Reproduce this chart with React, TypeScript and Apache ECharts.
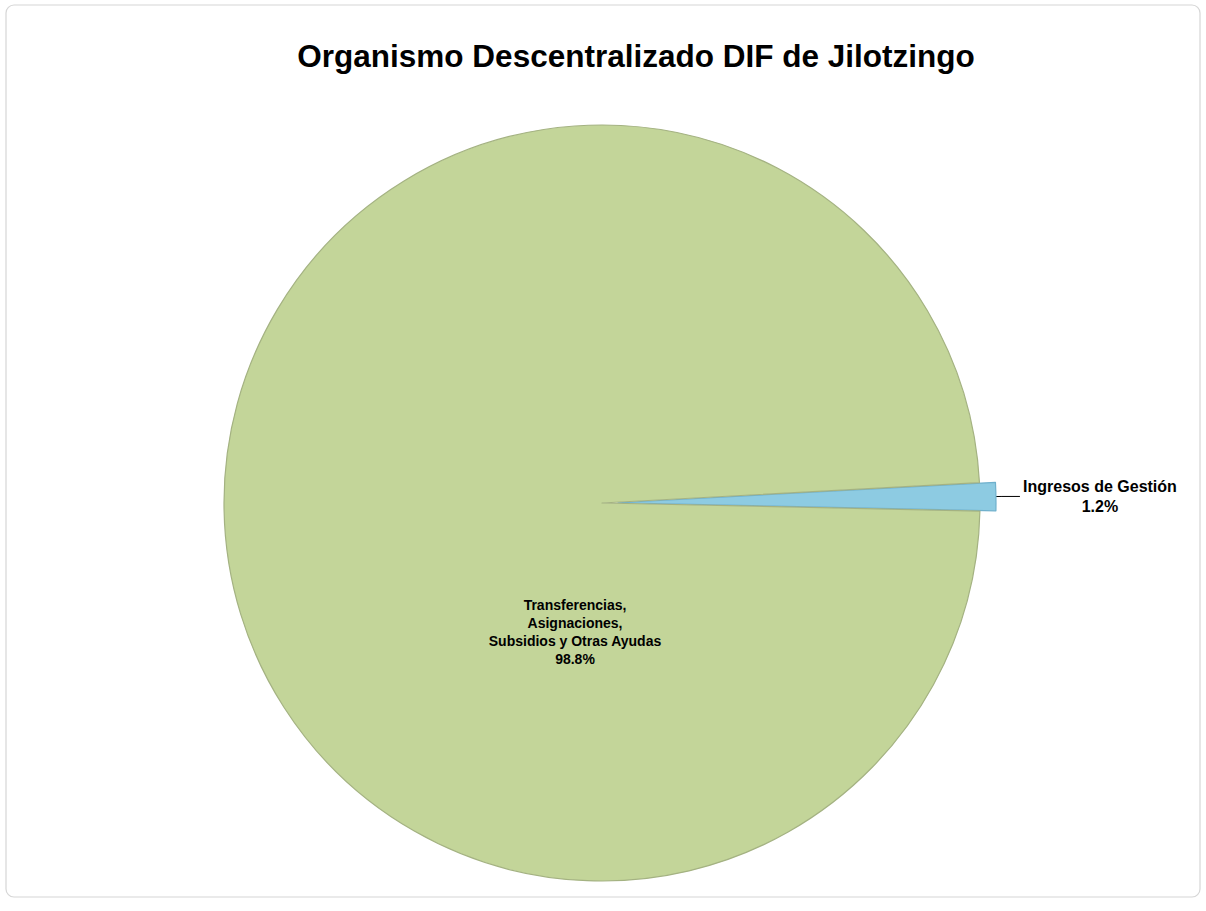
import React, { useEffect, useRef } from "react";
import * as echarts from "echarts";

const TITLE = "Organismo Descentralizado DIF de Jilotzingo";
const CATEGORIES = [
  "Ingresos de Gestión",
  "Transferencias,\nAsignaciones,\nSubsidios y Otras Ayudas",
];
const VALUES = [1.2, 98.8];
const COLORS = ["#8dcbe2", "#c3d599"];
const BORDERS = ["#6fb0cc", "#a4b282"];

const FONT = "Liberation Sans, Arial, sans-serif";

export default function App() {
  const ref = useRef<HTMLDivElement>(null);
  useEffect(() => {
    if (!ref.current) return;
    const chart = echarts.init(ref.current, null, { renderer: "svg" });
    const data = CATEGORIES.map((name, i) => ({
      name,
      value: VALUES[i],
      selected: i === 0,
      itemStyle: { color: COLORS[i], borderColor: BORDERS[i], borderWidth: 1.2 },
      select: { itemStyle: { color: COLORS[i], borderColor: BORDERS[i], borderWidth: 1.2 } },
      label:
        i === 0
          ? {
              position: "outside",
              distanceToLabelLine: 1,
              formatter: (p: any) => `{a|${p.name}}\n{a|${p.value.toFixed(1)}%}`,
              rich: {
                a: {
                  width: 158,
                  align: "center",
                  fontSize: 16,
                  lineHeight: 20,
                  fontFamily: FONT,
                  fontWeight: "bold",
                  color: "#000000",
                },
              },
            }
          : {
              position: "inside",
              fontSize: 14,
              lineHeight: 18,
              align: "center",
              formatter: (p: any) => `${p.name}\n${p.value.toFixed(1)}%`,
            },
      labelLine: i === 0 ? { show: true, length: 6, length2: 18 } : { show: false },
    }));
    chart.setOption({
      animation: false,
      backgroundColor: "#ffffff",
      graphic: [
        {
          type: "rect",
          shape: { x: 6, y: 5, width: 1194, height: 892, r: 8 },
          style: { fill: "#ffffff", stroke: "#d6d6d6", lineWidth: 1.2 },
          z: -10,
        },
      ],
      title: {
        text: TITLE,
        left: 631,
        top: 35,
        textAlign: "center",
        textStyle: {
          fontFamily: FONT,
          fontSize: 31.5,
          fontWeight: "bold",
          color: "#000000",
        },
      },
      series: [
        {
          type: "pie",
          center: [602, 503],
          radius: 378,
          startAngle: 3.1,
          clockwise: true,
          selectedMode: "single",
          selectedOffset: 16,
          avoidLabelOverlap: false,
          emphasis: { disabled: true },
          label: {
            show: true,
            fontFamily: FONT,
            fontWeight: "bold",
            color: "#000000",
          },
          labelLine: { lineStyle: { color: "#000000", width: 1 } },
          labelLayout: (params: any) => {
            if (params.dataIndex === 1) {
              return { x: 575, y: 632, align: "center", verticalAlign: "middle" };
            }
            return {};
          },
          data,
        },
      ],
    });
    return () => chart.dispose();
  }, []);
  return (
    <div
      ref={ref}
      style={{ position: "absolute", left: 0, top: 0, width: 1206, height: 911 }}
    />
  );
}
